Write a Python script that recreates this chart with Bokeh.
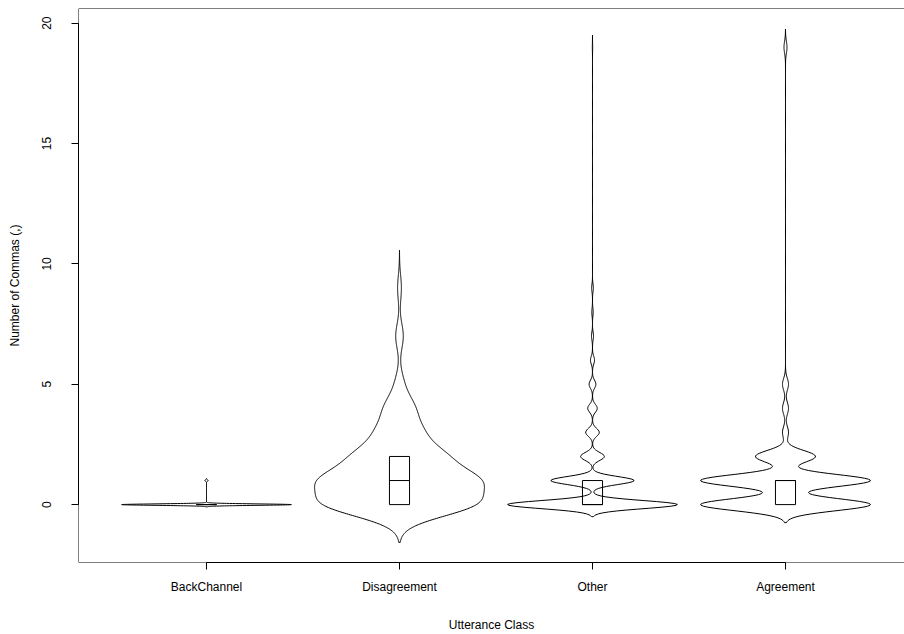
import numpy as np
from bokeh.plotting import figure
from bokeh.models import FixedTicker, Span
from bokeh.embed import file_html
from bokeh.resources import INLINE

# ---- data ----
categories = ["BackChannel", "Disagreement", "Other", "Agreement"]
comma_values = [0, 1, 2, 3, 4, 5, 6, 7, 8, 9, 10, 11, 12, 13, 14, 15, 16, 17, 18, 19]
backchannel_freq = [300, 6, 0, 0, 0, 0, 0, 0, 0, 0, 0, 0, 0, 0, 0, 0, 0, 0, 0, 0]
disagreement_freq = [35, 35, 20, 10, 7, 2, 0, 2, 0, 1, 0, 0, 0, 0, 0, 0, 0, 0, 0, 0]
other_freq = [500, 245, 70, 40, 28, 20, 12, 6, 4, 5, 0, 0, 0, 0, 0, 0, 0, 0, 0, 1]
agreement_freq = [170, 170, 60, 6, 6, 6, 0, 0, 0, 0, 0, 0, 0, 0, 0, 0, 0, 0, 0, 3]
bandwidths = [0.03, 0.523, 0.167, 0.25]
y_ticks = [0, 5, 10, 15, 20]

freqs = [backchannel_freq, disagreement_freq, other_freq, agreement_freq]

FONT = "Liberation Sans"
HALF_WIDTH = 0.44
BOX_HALF = 0.052
X0, X1 = 0.3368, 4.6166
Y0, Y1 = -2.405, 20.61

p = figure(width=904, height=634, output_backend="svg", toolbar_location=None,
           x_range=(X0, X1), y_range=(Y0, Y1),
           min_border_left=78, min_border_right=0, min_border_top=8, min_border_bottom=71)
p.outline_line_color = None
p.xgrid.visible = False
p.ygrid.visible = False
p.background_fill_color = "white"
p.border_fill_color = "white"


def kde(vals, weights, bw, cut=3.0, n=512):
    vals = np.asarray(vals, float)
    w = np.asarray(weights, float)
    used = vals[w > 0]
    grid = np.linspace(used.min() - cut * bw, used.max() + cut * bw, n)
    d = (w[None, :] * np.exp(-0.5 * ((grid[:, None] - vals[None, :]) / bw) ** 2)).sum(axis=1)
    return grid, d


for i, (name, f, bw) in enumerate(zip(categories, freqs, bandwidths)):
    pos = i + 1
    grid, d = kde(comma_values, f, bw)
    half = HALF_WIDTH * d / d.max()
    xs = np.concatenate([pos - half, (pos + half)[::-1]])
    ys = np.concatenate([grid, grid[::-1]])
    p.patch(xs, ys, fill_color=None, line_color="black", line_width=1)
    data = np.repeat(comma_values, f)
    q1, med, q3 = np.quantile(data, [0.25, 0.5, 0.75])
    p.quad(left=pos - BOX_HALF, right=pos + BOX_HALF, bottom=q1, top=q3,
           fill_color=None, line_color="black", line_width=1)
    p.segment(x0=pos - BOX_HALF, x1=pos + BOX_HALF, y0=med, y1=med,
              line_color="black", line_width=1)

# plot box (like R's box)
for loc, dim in [(Y1, "width"), (Y0, "width"), (X0, "height")]:
    p.add_layout(Span(location=loc, dimension=dim, line_color="#000000", line_width=1))

# axes
p.xaxis.ticker = FixedTicker(ticks=[1, 2, 3, 4])
p.xaxis.major_label_overrides = {i + 1: c for i, c in enumerate(categories)}
p.yaxis.ticker = FixedTicker(ticks=y_ticks)
p.xaxis.bounds = (1, 4)
p.yaxis.bounds = (0, 20)
for ax in (p.xaxis, p.yaxis):
    ax.minor_tick_line_color = None
    ax.major_tick_out = 7
    ax.major_tick_in = 0
    ax.axis_line_color = "black"
    ax.major_tick_line_color = "black"
    ax.major_label_text_font = FONT
    ax.major_label_text_font_size = "12px"
    ax.major_label_text_color = "black"
    ax.axis_label_text_font = FONT
    ax.axis_label_text_font_size = "12px"
    ax.axis_label_text_font_style = "normal"
    ax.axis_label_text_color = "black"

p.yaxis.major_label_orientation = "vertical"
p.xaxis.axis_label = "Utterance Class"
p.yaxis.axis_label = "Number of Commas (,)"
p.yaxis.major_label_standoff = 20
p.yaxis.axis_label_standoff = 18
p.xaxis.major_label_standoff = 10
p.xaxis.axis_label_standoff = 21

open("out.html", "w").write(file_html(p, INLINE))
